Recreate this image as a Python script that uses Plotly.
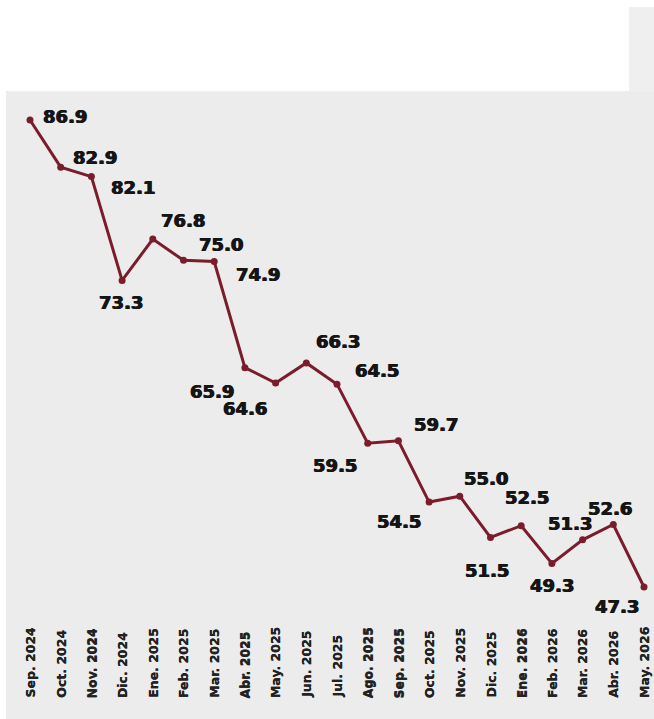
import plotly.graph_objects as go

months = ["Sep. 2024", "Oct. 2024", "Nov. 2024", "Dic. 2024", "Ene. 2025", "Feb. 2025",
          "Mar. 2025", "Abr. 2025", "May. 2025", "Jun. 2025", "Jul. 2025", "Ago. 2025",
          "Sep. 2025", "Oct. 2025", "Nov. 2025", "Dic. 2025", "Ene. 2026", "Feb. 2026",
          "Mar. 2026", "Abr. 2026", "May. 2026"]
values = [86.9, 82.9, 82.1, 73.3, 76.8, 75.0, 74.9, 65.9, 64.6, 66.3, 64.5, 59.5,
          59.7, 54.5, 55.0, 51.5, 52.5, 49.3, 51.3, 52.6, 47.3]

# label offsets in pixels (dx, dy with dy positive = up)
label_dx = [35, 34, 42, -1, 30, 37, 44, -33, -31, 32, 40, -33, 38, -30, 26, -4, 6, 0, -13, -3, -27]
label_dy = [4, 10, -11, -22, 19, 16, -13, -24, -26, 21, 14, -22, 16, -19, 18, -33, 28, -22, 16, 16, -19]

LINE = "#7a1c2c"
BG = "#ececec"
W, H = 654, 719

fig = go.Figure()
fig.add_trace(go.Scatter(
    x=months, y=values, mode="lines+markers",
    line=dict(color=LINE, width=3),
    marker=dict(color=LINE, size=7),
    hoverinfo="x+y", showlegend=False,
))

annotations = []
for m, v, dx, dy in zip(months, values, label_dx, label_dy):
    annotations.append(dict(
        x=m, y=v, xref="x", yref="y", text=f"{v:.1f}", showarrow=False,
        xshift=dx, yshift=dy, xanchor="center", yanchor="middle",
        font=dict(family="DejaVu Sans", size=18, color="#151515", weight="bold",
                  shadow="0.6px 0 0 #151515, -0.6px 0 0 #151515"),
    ))
for m in months:
    annotations.append(dict(
        x=m, y=19 / H, xref="x", yref="paper", text=m, showarrow=False,
        textangle=-90, xanchor="center", yanchor="bottom",
        font=dict(family="DejaVu Sans", size=12.5, color="#222222", weight="bold",
                  shadow="0 0.3px 0 #222222"),
    ))

shapes = [
    dict(type="rect", xref="paper", yref="paper", x0=6 / W, x1=1, y0=0, y1=(H - 91) / H,
         fillcolor=BG, line=dict(width=0), layer="below"),
    dict(type="rect", xref="paper", yref="paper", x0=629 / W, x1=1, y0=(H - 92) / H, y1=(H - 7) / H,
         fillcolor="#efefef", line=dict(width=0), layer="below"),
]

slope = (587 - 120) / (86.9 - 47.3)
y_top = 86.9 + 120 / slope
y_bot = 86.9 - (H - 120) / slope
step = (644 - 30) / 20
x_lo = -30 / step
x_hi = 20 + (W - 644) / step

fig.update_layout(
    width=W, height=H,
    margin=dict(l=0, r=0, t=0, b=0),
    paper_bgcolor="white", plot_bgcolor="rgba(0,0,0,0)",
    xaxis=dict(type="category", categoryarray=months, range=[x_lo, x_hi],
               showticklabels=False, showgrid=False, zeroline=False, showline=False),
    yaxis=dict(range=[y_bot, y_top], showticklabels=False, showgrid=False,
               zeroline=False, showline=False),
    shapes=shapes, annotations=annotations,
)

fig.write_html("out.html", config={"displayModeBar": False},
               post_script="document.body.style.margin='0';document.body.style.overflow='hidden';")
